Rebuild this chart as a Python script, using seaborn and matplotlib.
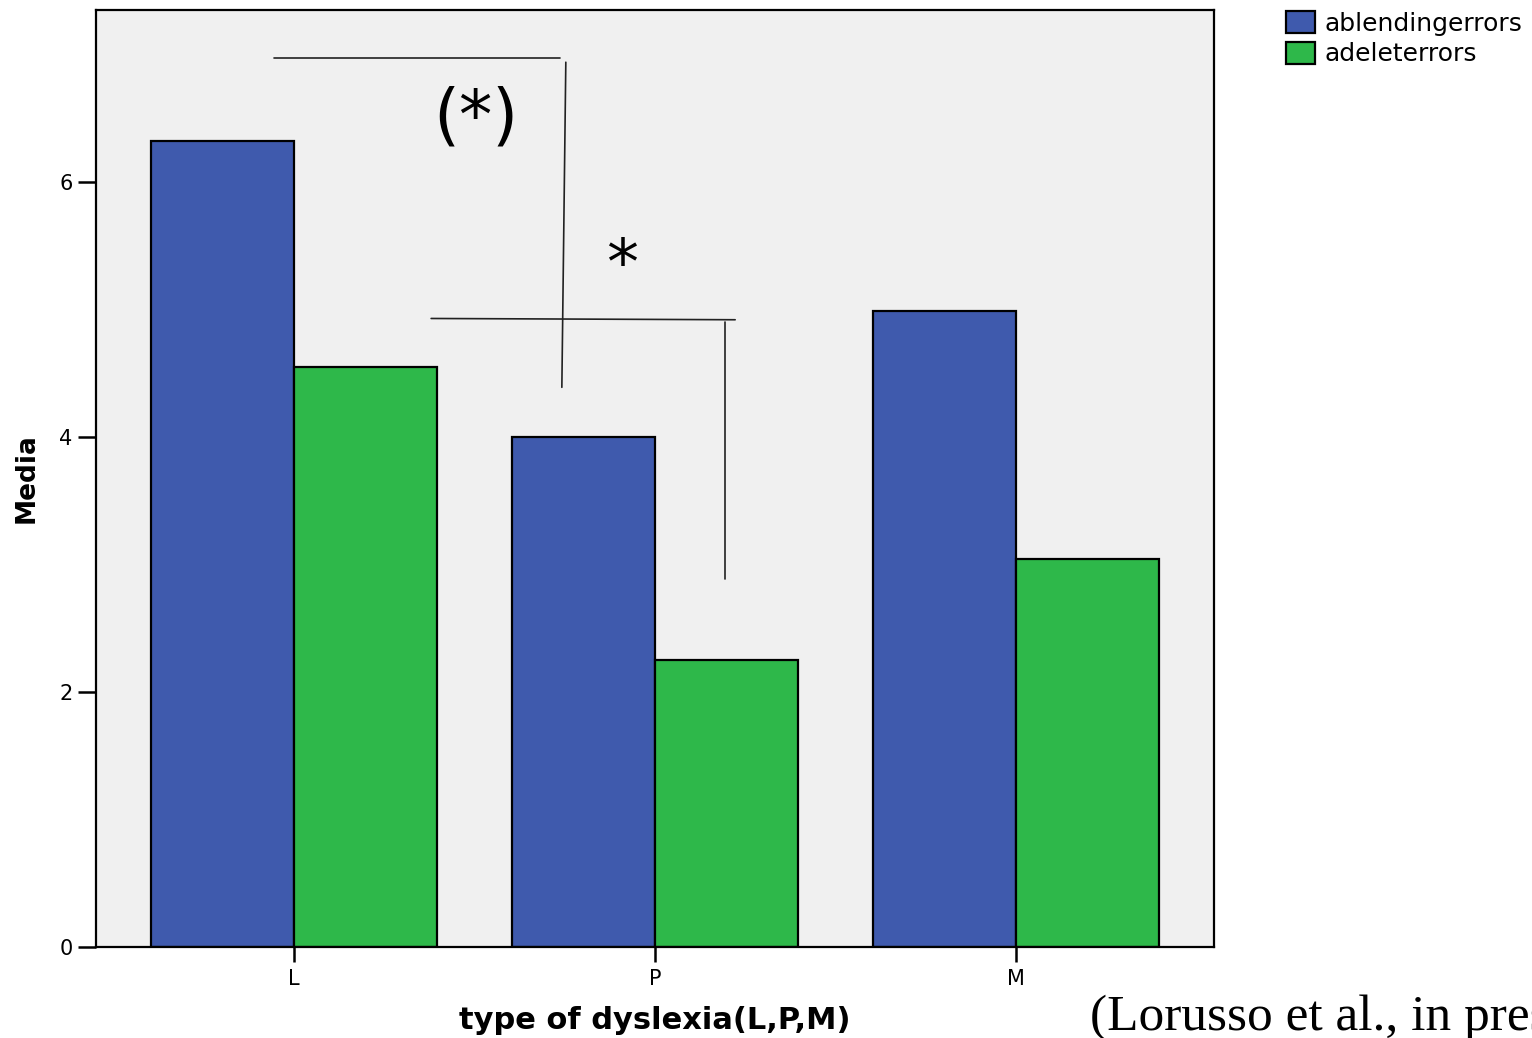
import matplotlib
matplotlib.use("Agg")
import matplotlib.pyplot as plt
import seaborn as sns
import pandas as pd

# Mean error counts per dyslexia subtype
categories = ["L", "P", "M"]
series_names = ["ablendingerrors", "adeleterrors"]
blending_errors = [6.32, 4.00, 4.99]
delete_errors = [4.55, 2.25, 3.04]
y_ticks = [0, 2, 4, 6]

df = pd.DataFrame({
    "type": categories * 2,
    "series": [series_names[0]] * 3 + [series_names[1]] * 3,
    "value": blending_errors + delete_errors,
})

sns.set_theme(style="white")
plt.rcParams["font.family"] = ["DejaVu Sans"]
plt.rcParams["text.color"] = "black"
plt.rcParams["axes.labelcolor"] = "black"
plt.rcParams["xtick.color"] = "black"
plt.rcParams["ytick.color"] = "black"

fig = plt.figure(figsize=(15.32, 10.38), dpi=100)
ax = fig.add_axes([0.0627, 0.0877, 0.7297, 0.9027])

palette = {series_names[0]: "#3F5AAD", series_names[1]: "#2EB84A"}
sns.barplot(data=df, x="type", y="value", hue="series", order=categories,
            hue_order=series_names, palette=palette, width=0.79,
            edgecolor="black", linewidth=1.6, saturation=1, errorbar=None,
            ax=ax)

ax.set_facecolor("#F0F0F0")
ax.set_xlim(-0.548, 2.548)
ax.set_ylim(0, 7.35)
ax.set_yticks(y_ticks)
ax.set_yticklabels([str(t) for t in y_ticks], fontsize=15)
ax.tick_params(axis="x", labelsize=15, length=11, width=1.8, direction="out",
               bottom=True, pad=5)
ax.tick_params(axis="y", length=13, width=1.8, direction="out", left=True,
               pad=4)
for s in ax.spines.values():
    s.set_color("black")
    s.set_linewidth(1.6)

ax.set_xlabel("type of dyslexia(L,P,M)", fontsize=22, fontweight="bold",
              labelpad=12)
ax.set_ylabel("Media", fontsize=19, fontweight="bold", labelpad=14)

# Significance brackets
lc = "#222222"
ax.plot([-0.055, 0.737], [6.97, 6.97], color=lc, lw=1.2)
ax.plot([0.753, 0.742], [6.94, 4.39], color=lc, lw=1.2)
ax.plot([0.380, 1.222], [4.93, 4.92], color=lc, lw=1.2)
ax.plot([1.194, 1.194], [4.90, 2.89], color=lc, lw=1.2)
ax.text(0.504, 6.50, "(*)", fontsize=48, ha="center", va="center",
        color="black")
ax.text(0.909, 5.20, "*", fontsize=46, ha="center", va="baseline",
        color="black")

handles, labels = ax.get_legend_handles_labels()
ax.legend(handles, labels, loc="upper left", bbox_to_anchor=(0.8395, 0.989),
          bbox_transform=fig.transFigure, frameon=False, fontsize=18,
          handlelength=1.15, handleheight=0.95, handletextpad=0.4,
          labelspacing=0.25, borderaxespad=0, borderpad=0)

fig.text(0.7115, 0.0077, "(Lorusso et al., in press)", fontsize=37,
         family="Liberation Serif", ha="left", va="baseline")

fig.savefig("out.png", dpi=100)
